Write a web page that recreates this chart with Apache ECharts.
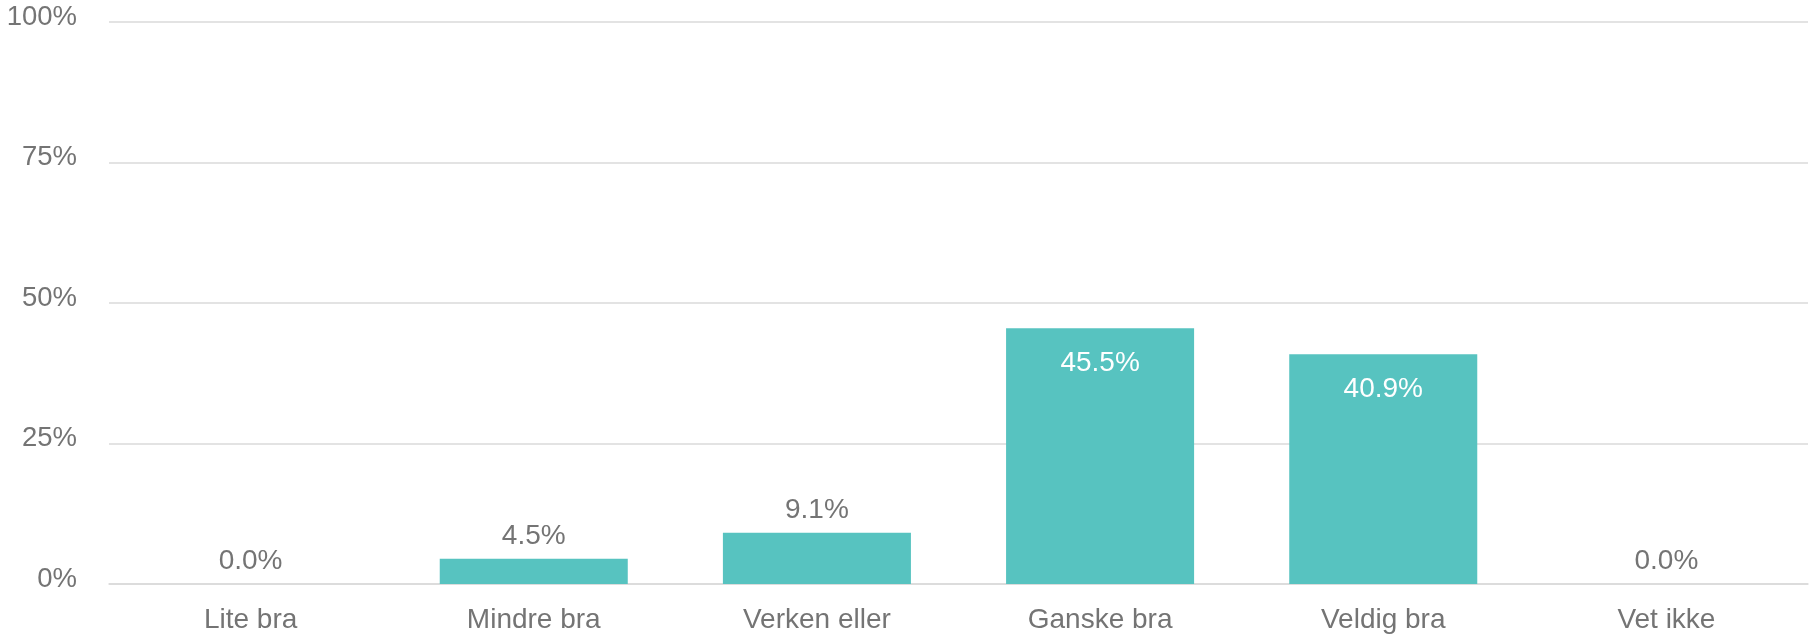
<!DOCTYPE html>
<html>
<head>
<meta charset="utf-8">
<script src="https://cdn.jsdelivr.net/npm/echarts@6/dist/echarts.min.js"></script>
<style>
html,body{margin:0;padding:0;background:#fff;}
#chart{width:1810px;height:637px;}
</style>
</head>
<body>
<div id="chart"></div>
<script>
const categories = ['Lite bra', 'Mindre bra', 'Verken eller', 'Ganske bra', 'Veldig bra', 'Vet ikke'];
const values = [0.0, 4.5, 9.1, 45.5, 40.9, 0.0];
const insideLabelIndexes = [3, 4];
const yTicks = [0, 25, 50, 75, 100];

const barColor = '#57c3c0';
const textColor = '#747474';
const gridColor = '#dadada';
const font = 'Liberation Sans, Arial, sans-serif';

const chart = echarts.init(document.getElementById('chart'));
chart.setOption({
  animation: false,
  grid: { left: 109, right: 2, top: 22, bottom: 53, containLabel: false },
  xAxis: {
    type: 'category',
    data: categories,
    axisLine: { show: true, lineStyle: { color: gridColor, width: 1.5 } },
    axisTick: { show: false },
    axisLabel: { color: textColor, fontSize: 28, fontFamily: font, margin: 22.5 }
  },
  yAxis: {
    type: 'value',
    min: yTicks[0],
    max: yTicks[yTicks.length - 1],
    interval: 25,
    axisLine: { show: false },
    axisTick: { show: false },
    splitLine: { lineStyle: { color: gridColor, width: 1.5 } },
    axisLabel: {
      color: textColor, fontSize: 27.5, fontFamily: font, margin: 32,
      verticalAlign: 'middle',
      lineHeight: 28,
      formatter: v => '{a|' + v + '%}',
      rich: { a: { fontSize: 27.5, fontFamily: font, color: textColor, padding: [0, 0, 10, 0] } }
    }
  },
  series: [{
    type: 'bar',
    barWidth: '66.4%',
    itemStyle: { color: barColor },
    data: values.map((v, i) => {
      const inside = insideLabelIndexes.includes(i);
      return {
        value: v,
        label: inside
          ? { show: true, position: 'insideTop', distance: 21, color: '#ffffff', fontSize: 28, fontFamily: font }
          : { show: true, position: 'top', distance: 8.8, color: textColor, fontSize: 28, fontFamily: font }
      };
    }),
    label: { formatter: p => p.value.toFixed(1) + '%' }
  }]
});
</script>
</body>
</html>
